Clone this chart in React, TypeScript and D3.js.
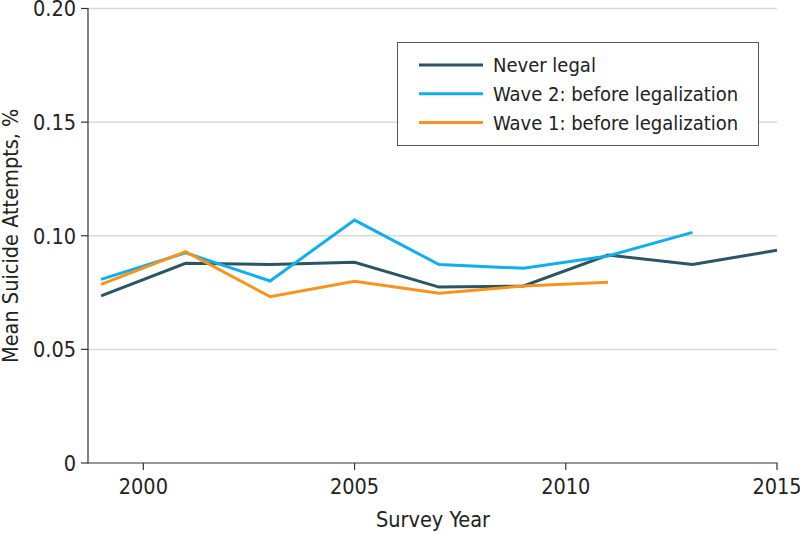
import React from "react";
import * as d3 from "d3";

const years = [1999, 2001, 2003, 2005, 2007, 2009, 2011, 2013, 2015];
const neverLegal = [0.0735, 0.0879, 0.0874, 0.0883, 0.0774, 0.0779, 0.0915, 0.0874, 0.0936];
const wave2 = [0.0808, 0.0925, 0.0801, 0.1069, 0.0873, 0.0857, 0.0911, 0.1015];
const wave1 = [0.0786, 0.093, 0.0732, 0.08, 0.0747, 0.0779, 0.0795];
const xTicks = [2000, 2005, 2010, 2015];
const yTicks = [0, 0.05, 0.1, 0.15, 0.2];
const yTickLabels = ["0", "0.05", "0.10", "0.15", "0.20"];

const series = [
  { name: "Never legal", values: neverLegal, color: "#2b5565" },
  { name: "Wave 2: before legalization", values: wave2, color: "#11aeea" },
  { name: "Wave 1: before legalization", values: wave1, color: "#f7941d" },
];

const FONT = "'DejaVu Sans Condensed', 'DejaVu Sans', sans-serif";

export default function App() {
  const W = 800, H = 534;
  const x = d3.scaleLinear().domain([1998.69, 2015]).range([88, 777]);
  const y = d3.scaleLinear().domain([0, 0.2]).range([463, 8.5]);
  const line = d3
    .line<[number, number]>()
    .x((d) => x(d[0]))
    .y((d) => y(d[1]));

  return (
    <svg
      width={W}
      height={H}
      style={{ position: "absolute", left: 0, top: 0, background: "#fff" }}
      fontFamily={FONT}
    >
      {yTicks.slice(1).map((t) => (
        <line key={t} x1={88} x2={777} y1={y(t)} y2={y(t)} stroke="#d9d9d9" strokeWidth={1.5} />
      ))}
      <line x1={88} x2={88} y1={y(0.2) - 0.5} y2={y(0) + 0.5} stroke="#333" strokeWidth={1.2} />
      {yTicks.map((t, i) => (
        <g key={t}>
          <line x1={81} x2={88} y1={y(t)} y2={y(t)} stroke="#333" strokeWidth={1.2} />
          <text x={76} y={y(t) + 7.8} textAnchor="end" fontSize={21.5} fill="#222">
            {yTickLabels[i]}
          </text>
        </g>
      ))}
      <line x1={88} x2={777.5} y1={y(0)} y2={y(0)} stroke="#333" strokeWidth={1.2} />
      {xTicks.map((t) => (
        <g key={t}>
          <line x1={x(t)} x2={x(t)} y1={y(0)} y2={y(0) + 7} stroke="#333" strokeWidth={1.2} />
          <text x={x(t)} y={493.5} textAnchor="middle" fontSize={21.5} fill="#222">
            {t}
          </text>
        </g>
      ))}
      <text x={433} y={527} textAnchor="middle" fontSize={21.5} fill="#222">
        Survey Year
      </text>
      <text
        transform={`translate(18, ${y(0.1)}) rotate(-90)`}
        textAnchor="middle"
        fontSize={21.5}
        fill="#222"
      >
        Mean Suicide Attempts, %
      </text>
      {series.map((s) => (
        <path
          key={s.name}
          d={line(s.values.map((v, i) => [years[i], v] as [number, number])) || ""}
          fill="none"
          stroke={s.color}
          strokeWidth={3}
          strokeLinejoin="miter"
        />
      ))}
      <rect x={397.5} y={42.5} width={361} height={103} fill="#fff" stroke="#555" strokeWidth={1} />
      {series.map((s, i) => (
        <g key={s.name} transform={`translate(0, ${65 + i * 28.8})`}>
          <line x1={419} x2={483} y1={0} y2={0} stroke={s.color} strokeWidth={3} />
          <text x={493} y={0} dy="0.35em" fontSize={20} fill="#222">
            {s.name}
          </text>
        </g>
      ))}
    </svg>
  );
}
